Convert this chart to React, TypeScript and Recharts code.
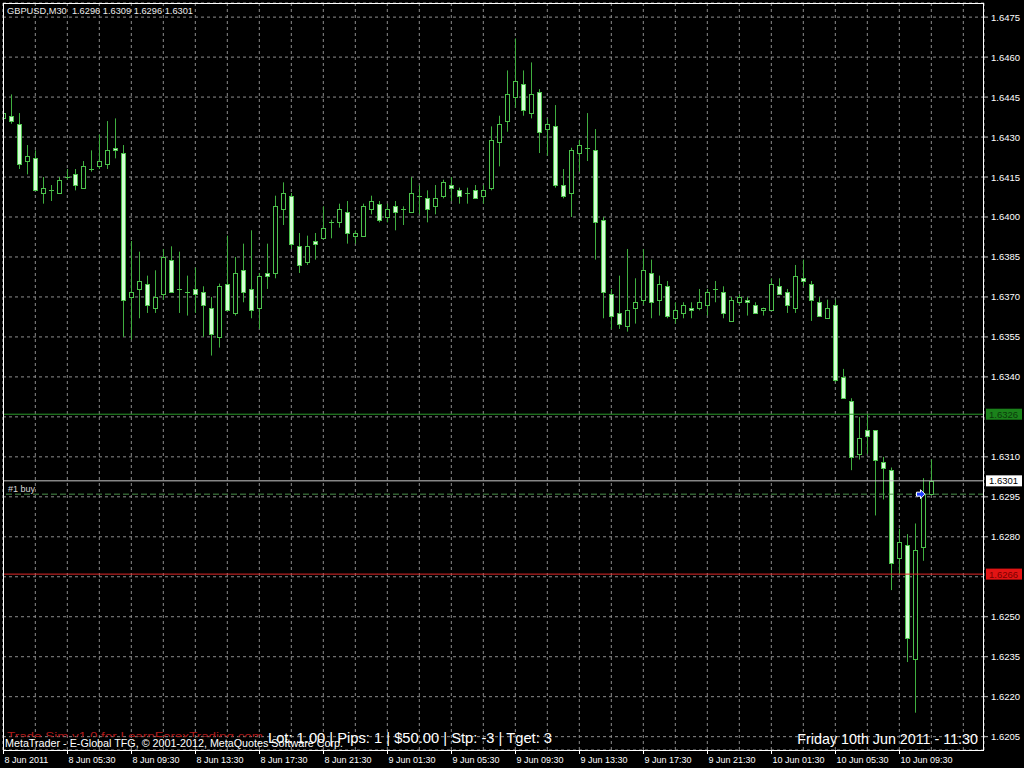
import React from 'react';
import { ComposedChart, Bar, XAxis, YAxis, CartesianGrid, ReferenceLine, ReferenceDot } from 'recharts';

// ---- data (GBPUSD M30, bar 0 = 8 Jun 2011 01:30) ----
const opens = [
  1.6437, 1.6438, 1.6435, 1.6421, 1.6422, 1.6409, 1.6410, 1.6409, 1.6415, 1.6416,
  1.6411, 1.6418, 1.6419, 1.6420, 1.6426, 1.6424, 1.6370, 1.6373, 1.6375, 1.6366,
  1.6371, 1.6384, 1.6373, 1.6372, 1.6373, 1.6372, 1.6366, 1.6355, 1.6375, 1.6364,
  1.6380, 1.6373, 1.6366, 1.6379, 1.6379, 1.6403, 1.6408, 1.6389, 1.6383, 1.6391,
  1.6392, 1.6398, 1.6398, 1.6402, 1.6393, 1.6393, 1.6403, 1.6405, 1.6400, 1.6404,
  1.6403, 1.6402, 1.6408, 1.6407, 1.6404, 1.6408, 1.6412, 1.6410, 1.6409, 1.6410,
  1.6408, 1.6411, 1.6428, 1.6436, 1.6445, 1.6450, 1.6439, 1.6447, 1.6433, 1.6434,
  1.6412, 1.6409, 1.6424, 1.6426, 1.6425, 1.6399, 1.6371, 1.6364, 1.6359, 1.6366,
  1.6369, 1.6379, 1.6369, 1.6374, 1.6362, 1.6364, 1.6366, 1.6366, 1.6367, 1.6373,
  1.6372, 1.6361, 1.6368, 1.6369, 1.6367, 1.6365, 1.6365, 1.6374, 1.6372, 1.6366,
  1.6377, 1.6375, 1.6368, 1.6362, 1.6367, 1.6340, 1.6331, 1.6311, 1.6320, 1.6320,
  1.6308, 1.6305, 1.6272, 1.6277, 1.6234, 1.6276, 1.6296,
];
const highs = [
  1.6442, 1.6446, 1.6439, 1.6427, 1.6425, 1.6415, 1.6412, 1.6415, 1.6418, 1.6418,
  1.6421, 1.6425, 1.6431, 1.6436, 1.6437, 1.6427, 1.6391, 1.6387, 1.6378, 1.6380,
  1.6388, 1.6389, 1.6387, 1.6378, 1.6381, 1.6374, 1.6370, 1.6375, 1.6393, 1.6385,
  1.6390, 1.6395, 1.6379, 1.6390, 1.6408, 1.6413, 1.6409, 1.6394, 1.6393, 1.6394,
  1.6404, 1.6399, 1.6405, 1.6406, 1.6395, 1.6405, 1.6408, 1.6406, 1.6405, 1.6406,
  1.6404, 1.6415, 1.6412, 1.6410, 1.6412, 1.6414, 1.6415, 1.6411, 1.6411, 1.6412,
  1.6412, 1.6434, 1.6438, 1.6455, 1.6467, 1.6455, 1.6458, 1.6448, 1.6437, 1.6442,
  1.6418, 1.6426, 1.6429, 1.6439, 1.6433, 1.6400, 1.6373, 1.6378, 1.6388, 1.6377,
  1.6388, 1.6384, 1.6378, 1.6376, 1.6368, 1.6368, 1.6368, 1.6373, 1.6373, 1.6376,
  1.6374, 1.6370, 1.6371, 1.6370, 1.6368, 1.6366, 1.6377, 1.6377, 1.6373, 1.6382,
  1.6384, 1.6376, 1.6370, 1.6369, 1.6369, 1.6343, 1.6332, 1.6325, 1.6326, 1.6320,
  1.6310, 1.6306, 1.6283, 1.6281, 1.6285, 1.6302, 1.6309,
];
const lows = [
  1.6436, 1.6435, 1.6418, 1.6416, 1.6410, 1.6405, 1.6406, 1.6409, 1.6414, 1.6410,
  1.6411, 1.6417, 1.6418, 1.6418, 1.6422, 1.6355, 1.6354, 1.6362, 1.6364, 1.6364,
  1.6369, 1.6372, 1.6364, 1.6363, 1.6364, 1.6355, 1.6348, 1.6351, 1.6365, 1.6363,
  1.6368, 1.6362, 1.6358, 1.6373, 1.6377, 1.6397, 1.6388, 1.6379, 1.6382, 1.6384,
  1.6392, 1.6392, 1.6396, 1.6390, 1.6390, 1.6393, 1.6401, 1.6398, 1.6398, 1.6395,
  1.6397, 1.6402, 1.6401, 1.6398, 1.6401, 1.6407, 1.6406, 1.6405, 1.6405, 1.6407,
  1.6405, 1.6410, 1.6419, 1.6432, 1.6441, 1.6438, 1.6437, 1.6424, 1.6423, 1.6411,
  1.6407, 1.6400, 1.6417, 1.6421, 1.6384, 1.6362, 1.6358, 1.6358, 1.6357, 1.6360,
  1.6367, 1.6362, 1.6363, 1.6362, 1.6360, 1.6362, 1.6362, 1.6365, 1.6363, 1.6368,
  1.6362, 1.6361, 1.6367, 1.6363, 1.6364, 1.6363, 1.6365, 1.6371, 1.6364, 1.6364,
  1.6374, 1.6361, 1.6363, 1.6362, 1.6338, 1.6332, 1.6305, 1.6309, 1.6311, 1.6288,
  1.6294, 1.6260, 1.6266, 1.6233, 1.6214, 1.6271, 1.6296,
];
const closes = [
  1.6439, 1.6436, 1.6420, 1.6423, 1.6410, 1.6411, 1.6410, 1.6414, 1.6415, 1.6412,
  1.6419, 1.6418, 1.6421, 1.6425, 1.6425, 1.6369, 1.6372, 1.6376, 1.6367, 1.6370,
  1.6385, 1.6372, 1.6373, 1.6372, 1.6371, 1.6367, 1.6356, 1.6374, 1.6365, 1.6379,
  1.6372, 1.6365, 1.6378, 1.6378, 1.6404, 1.6409, 1.6390, 1.6382, 1.6389, 1.6390,
  1.6396, 1.6398, 1.6403, 1.6394, 1.6394, 1.6404, 1.6406, 1.6399, 1.6403, 1.6402,
  1.6403, 1.6409, 1.6408, 1.6403, 1.6407, 1.6413, 1.6411, 1.6408, 1.6409, 1.6407,
  1.6410, 1.6429, 1.6435, 1.6446, 1.6451, 1.6440, 1.6446, 1.6432, 1.6435, 1.6412,
  1.6408, 1.6425, 1.6427, 1.6426, 1.6398, 1.6372, 1.6363, 1.6360, 1.6365, 1.6368,
  1.6380, 1.6368, 1.6375, 1.6363, 1.6365, 1.6367, 1.6365, 1.6368, 1.6372, 1.6373,
  1.6364, 1.6369, 1.6370, 1.6368, 1.6364, 1.6366, 1.6375, 1.6371, 1.6367, 1.6378,
  1.6376, 1.6369, 1.6363, 1.6366, 1.6339, 1.6332, 1.6310, 1.6317, 1.6318, 1.6309,
  1.6306, 1.6270, 1.6278, 1.6242, 1.6275, 1.6296, 1.6301,
];

const timeTickBars = [0, 8, 16, 24, 32, 40, 48, 56, 64, 72, 80, 88, 96, 104, 112];
const timeLabels = [
  '8 Jun 2011', '8 Jun 05:30', '8 Jun 09:30', '8 Jun 13:30', '8 Jun 17:30', '8 Jun 21:30',
  '9 Jun 01:30', '9 Jun 05:30', '9 Jun 09:30', '9 Jun 13:30', '9 Jun 17:30', '9 Jun 21:30',
  '10 Jun 01:30', '10 Jun 05:30', '10 Jun 09:30',
];
const gridBars = [0, 4, 8, 12, 16, 20, 24, 28, 32, 36, 40, 44, 48, 52, 56, 60, 64, 68, 72, 76, 80, 84, 88, 92, 96, 100, 104, 108, 112, 116, 120];
const priceTicks = [
  1.6205, 1.6220, 1.6235, 1.6250, 1.6265, 1.6280, 1.6295, 1.6310, 1.6325, 1.6340,
  1.6355, 1.6370, 1.6385, 1.6400, 1.6415, 1.6430, 1.6445, 1.6460, 1.6475,
];
const hiddenPriceLabels = [1.6325, 1.6265];

const takeProfit = 1.6326;
const stopLoss = 1.6266;
const bidPrice = 1.6301;
const orderPrice = 1.6296;
const orderBar = 114.65;

const data = opens.map((o, i) => ({
  i,
  o,
  h: highs[i],
  l: lows[i],
  c: closes[i],
  range: [lows[i], highs[i]],
}));

// ---- styles ----
const FONT = "'Liberation Sans', Arial, sans-serif";
const WICK = '#3fae3f';
const BODY = '#4cc24c';
const BEAR_FILL = '#d4ffd4';
const GRID = '#8e8e8e';

function Candle(props: any) {
  const { x, y, width, height, payload } = props;
  if (!payload || x == null || y == null) return null;
  const { o, h, l, c } = payload;
  const top = Math.min(y, y + height);
  const bot = Math.max(y, y + height);
  const k = (bot - top) / (h - l || 1);
  const py = (v: number) => top + (h - v) * k;
  const cx = Math.round(x + width / 2) + 0.5;
  const yo = py(o);
  const yc = py(c);
  const bTop = Math.round(Math.min(yo, yc));
  const bBot = Math.round(Math.max(yo, yc));
  const bear = c < o;
  return (
    <g>
      <line x1={cx} x2={cx} y1={top} y2={bot} stroke={WICK} strokeWidth={1} />
      {bBot - bTop < 1 ? (
        <line x1={cx - 2.5} x2={cx + 2.5} y1={bTop + 0.5} y2={bTop + 0.5} stroke={BODY} strokeWidth={1} />
      ) : (
        <rect
          x={cx - 2}
          y={bTop + 0.5}
          width={4}
          height={bBot - bTop}
          fill={bear ? BEAR_FILL : '#000000'}
          stroke={BODY}
          strokeWidth={1}
        />
      )}
    </g>
  );
}

function PriceTick(props: any) {
  const { x, y, payload } = props;
  const v = payload.value as number;
  if (hiddenPriceLabels.some((h) => Math.abs(h - v) < 1e-7)) return null;
  return (
    <g>
      <line x1={x} x2={x + 4} y1={y} y2={y} stroke="#bfbfbf" strokeWidth={1} />
      <text x={x + 7} y={y + 3.5} fill="#ffffff" fontSize={9.5} fontFamily={FONT}>
        {v.toFixed(4)}
      </text>
    </g>
  );
}

function TimeTick(props: any) {
  const { x, y, payload } = props;
  const idx = timeTickBars.indexOf(payload.value);
  if (idx < 0) return null;
  const px = Math.round(x) + 0.5;
  return (
    <g>
      <line x1={px} x2={px} y1={y} y2={y + 4} stroke="#ffffff" strokeWidth={1} />
      <text x={px + 1} y={y + 12.5} fill="#ffffff" fontSize={9} fontFamily={FONT}>
        {timeLabels[idx]}
      </text>
    </g>
  );
}

function makeBox(bg: string, fg: string, value: number) {
  return (props: any) => {
    const vb = props.viewBox || {};
    const right = (vb.x || 0) + (vb.width || 0);
    const y = vb.y || 0;
    return (
      <g>
        <rect x={right + 2} y={y - 5.5} width={36} height={11} fill={bg} />
        <text x={right + 5} y={y + 3.5} fill={fg} fontSize={9.5} fontFamily={FONT}>
          {value.toFixed(4)}
        </text>
      </g>
    );
  };
}

function OrderArrow(props: any) {
  const { cx, cy } = props;
  if (cx == null || cy == null) return null;
  const pts = [
    [-4, -2], [0, -2], [0, -4.5], [4.5, 0], [0, 4.5], [0, 2], [-4, 2],
  ].map(([dx, dy]) => `${cx + dx},${cy + dy}`).join(' ');
  return <polygon points={pts} fill="#1f3dff" stroke="#ffffff" strokeWidth={1} />;
}

export default function App() {
  return (
    <div style={{ position: 'absolute', left: 0, top: 0, width: 1024, height: 768, background: '#000000', overflow: 'hidden' }}>
      <ComposedChart
        width={1024}
        height={768}
        data={data}
        margin={{ top: 3, right: 0, bottom: 0, left: 3 }}
      >
        <CartesianGrid stroke={GRID} strokeDasharray="3 3" />
        <XAxis
          type="number"
          dataKey="i"
          domain={[-0.0375, 122.5875]}
          allowDataOverflow
          ticks={gridBars}
          interval={0}
          height={18}
          axisLine={false}
          tickLine={false}
          tickSize={0}
          tickMargin={0}
          tick={<TimeTick />}
        />
        <YAxis
          type="number"
          orientation="right"
          width={40}
          domain={[1.62, 1.64803]}
          allowDataOverflow
          ticks={priceTicks}
          interval={0}
          axisLine={false}
          tickLine={false}
          tickSize={0}
          tickMargin={0}
          tick={<PriceTick />}
        />
        <Bar dataKey="range" barSize={8} isAnimationActive={false} shape={(p: any) => <Candle {...p} />} />
        <ReferenceLine y={orderPrice} stroke="#4a8f4a" strokeDasharray="6 3" />
        <ReferenceLine y={takeProfit} stroke="#2a9a2a" label={makeBox('#1b821b', '#0b3a0b', takeProfit)} />
        <ReferenceLine y={bidPrice} stroke="#c8c8c8" label={makeBox('#ffffff', '#000000', bidPrice)} />
        <ReferenceLine y={stopLoss} stroke="#e02828" label={makeBox('#e21414', '#7a0000', stopLoss)} />
        <ReferenceDot x={orderBar} y={orderPrice} r={4} shape={(p: any) => <OrderArrow {...p} />} />
      </ComposedChart>
      <svg
        width={1024}
        height={768}
        style={{ position: 'absolute', left: 0, top: 0, pointerEvents: 'none' }}
      >
        <defs>
          <clipPath id="redclip">
            <rect x={0} y={726} width={300} height={11} />
          </clipPath>
        </defs>
        <rect x={3.5} y={3.5} width={980} height={747} fill="none" stroke="#ffffff" strokeWidth={1} />
        <text x={7} y={14} fill="#ececec" fontSize={9.3} fontFamily={FONT} xmlSpace="preserve" textLength={186} lengthAdjust="spacingAndGlyphs">
          {'GBPUSD,M30\u00a0\u00a01.6296 1.6309 1.6296 1.6301'}
        </text>
        <text x={8} y={492} fill="#d8d8d8" fontSize={9} fontFamily={FONT}>
          #1 buy
        </text>
        <text x={7} y={740} fill="#b01c1c" fontSize={10.5} fontFamily={FONT} clipPath="url(#redclip)" textLength={256} lengthAdjust="spacingAndGlyphs">
          Trade Sim v1.0 for LearnForexTrading.com
        </text>
        <text x={5} y={746.5} fill="#ffffff" fontSize={10} fontFamily={FONT} textLength={338} lengthAdjust="spacingAndGlyphs">
          MetaTrader - E-Global TFG, © 2001-2012, MetaQuotes Software Corp.
        </text>
        <text x={268} y={742.5} fill="#ffffff" fontSize={14.5} fontFamily={FONT} textLength={284} lengthAdjust="spacingAndGlyphs">
          Lot: 1.00 | Pips: 1 | $50.00 | Stp: -3 | Tget: 3
        </text>
        <text x={978} y={743.5} fill="#ffffff" fontSize={14.3} fontFamily={FONT} textAnchor="end">
          Friday 10th Jun 2011 - 11:30
        </text>
      </svg>
    </div>
  );
}
